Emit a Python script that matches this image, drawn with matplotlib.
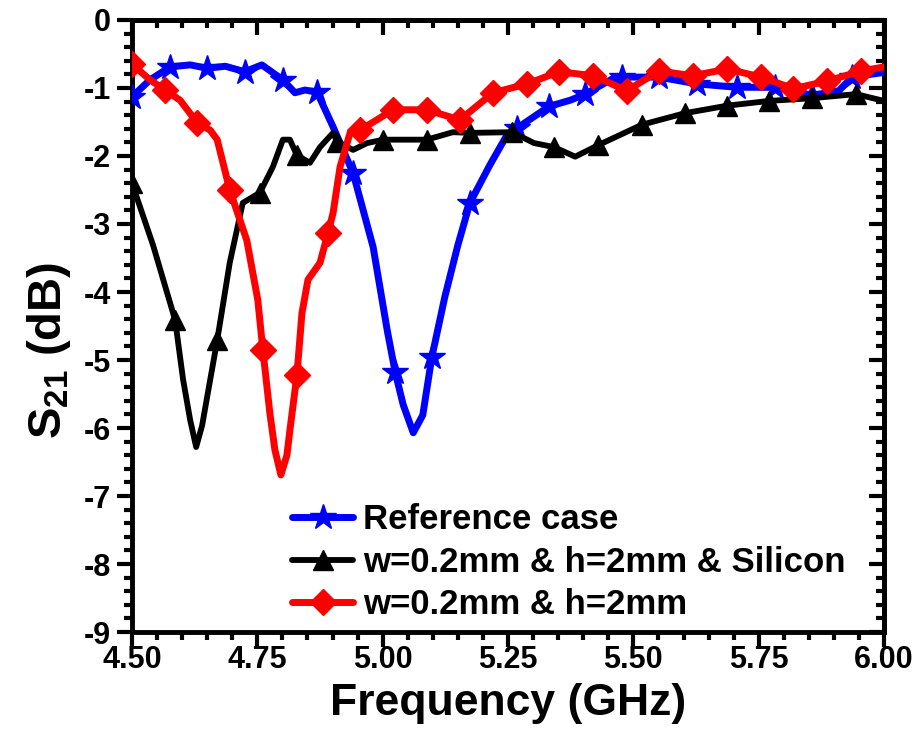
import matplotlib
matplotlib.use("Agg")
import matplotlib.pyplot as plt
from matplotlib.ticker import MultipleLocator, FormatStrFormatter

plt.rcParams['font.family'] = ['Liberation Sans', 'DejaVu Sans']
plt.rcParams['font.weight'] = 'bold'
plt.rcParams['axes.unicode_minus'] = False
plt.rcParams['mathtext.fontset'] = 'custom'
plt.rcParams['mathtext.rm'] = 'Liberation Sans:bold'
plt.rcParams['mathtext.it'] = 'Liberation Sans:bold'
plt.rcParams['mathtext.bf'] = 'Liberation Sans:bold'
plt.rcParams['mathtext.default'] = 'regular'

# ---- data ----
ref_f = [4.500, 4.536, 4.576, 4.616, 4.650, 4.686, 4.725, 4.759, 4.801, 4.825,
         4.845, 4.869, 4.901, 4.941, 4.981, 5.009, 5.025, 5.041, 5.061, 5.080,
         5.098, 5.124, 5.150, 5.174, 5.214, 5.248, 5.268, 5.332, 5.374, 5.404,
         5.457, 5.477, 5.551, 5.627, 5.707, 5.783, 5.856, 5.910, 5.936, 6.000]
ref_s = [-1.13, -0.88, -0.69, -0.66, -0.71, -0.68, -0.76, -0.66, -0.88, -1.07,
         -1.03, -1.06, -1.57, -2.25, -3.34, -4.56, -5.18, -5.66, -6.07, -5.81,
         -4.96, -4.07, -3.31, -2.69, -2.13, -1.69, -1.59, -1.27, -1.18, -1.09,
         -0.87, -0.84, -0.84, -0.94, -0.99, -0.99, -1.11, -1.04, -0.84, -0.77]
ref_mk = [0, 2, 4, 6, 8, 11, 13, 16, 20, 23, 26, 27, 29, 31, 32, 33, 34, 35, 36, 38]

si_f = [4.500, 4.542, 4.586, 4.602, 4.616, 4.628, 4.640, 4.650, 4.670, 4.695,
        4.721, 4.755, 4.781, 4.801, 4.815, 4.829, 4.855, 4.875, 4.901, 4.909,
        4.941, 4.969, 5.001, 5.088, 5.140, 5.174, 5.258, 5.302, 5.342, 5.384,
        5.430, 5.517, 5.603, 5.687, 5.771, 5.856, 5.944, 6.000]
si_s = [-2.40, -3.31, -4.41, -5.29, -5.88, -6.28, -5.96, -5.54, -4.71, -3.57,
        -2.69, -2.54, -2.16, -1.76, -1.76, -1.99, -2.10, -1.87, -1.66, -1.79,
        -1.91, -1.81, -1.76, -1.76, -1.65, -1.66, -1.65, -1.81, -1.87, -2.01,
        -1.84, -1.54, -1.37, -1.26, -1.19, -1.15, -1.09, -1.19]
si_mk = [0, 2, 8, 11, 15, 19, 22, 23, 25, 26, 28, 30, 31, 32, 33, 34, 35, 36]

wh_f = [4.500, 4.536, 4.566, 4.596, 4.630, 4.656, 4.670, 4.695, 4.729, 4.751,
        4.761, 4.775, 4.785, 4.797, 4.809, 4.815, 4.829, 4.839, 4.851, 4.875,
        4.891, 4.901, 4.915, 4.935, 4.955, 5.021, 5.088, 5.154, 5.220, 5.288,
        5.352, 5.420, 5.487, 5.551, 5.619, 5.687, 5.755, 5.819, 5.886, 5.954,
        6.000]
wh_s = [-0.65, -0.88, -1.03, -1.18, -1.51, -1.62, -1.76, -2.50, -3.24, -4.12,
        -4.85, -5.78, -6.32, -6.69, -6.40, -6.03, -5.22, -4.31, -3.82, -3.57,
        -3.13, -2.84, -2.16, -1.66, -1.62, -1.32, -1.32, -1.47, -1.07, -0.94,
        -0.76, -0.82, -1.04, -0.75, -0.82, -0.72, -0.84, -1.01, -0.90, -0.75,
        -0.69]
wh_mk = [0, 2, 4, 7, 10, 16, 20, 24, 25, 26, 27, 28, 29, 30, 31, 32, 33, 34,
         35, 36, 37, 38, 39]

labels = ["Reference case", "w=0.2mm & h=2mm & Silicon", "w=0.2mm & h=2mm"]
xticks = [4.50, 4.75, 5.00, 5.25, 5.50, 5.75, 6.00]
yticks = [0, -1, -2, -3, -4, -5, -6, -7, -8, -9]

# ---- figure ----
fig = plt.figure(figsize=(9.19, 7.46), dpi=100)
ax = fig.add_axes([0.1436, 0.1528, 0.8184, 0.8204])

ax.plot(ref_f, ref_s, color='#0000ff', lw=5, marker='*', markersize=19,
        markevery=ref_mk, mec='#0000ff', solid_joinstyle='round',
        solid_capstyle='round', label=labels[0], zorder=3)
ax.plot(si_f, si_s, color='black', lw=4.2, marker='^', markersize=14,
        markevery=si_mk, mec='black', solid_joinstyle='round',
        solid_capstyle='round', label=labels[1], zorder=4)
ax.plot(wh_f, wh_s, color='#ff0000', lw=5, marker='D', markersize=13,
        markevery=wh_mk, mec='#ff0000', solid_joinstyle='round',
        solid_capstyle='round', label=labels[2], zorder=5)

ax.set_xlim(4.5, 6.0)
ax.set_ylim(-9, 0)
ax.set_xticks(xticks)
ax.set_yticks(yticks)
ax.xaxis.set_major_formatter(FormatStrFormatter('%.2f'))
ax.yaxis.set_major_formatter(FormatStrFormatter('%d'))
ax.xaxis.set_minor_locator(MultipleLocator(0.05))
ax.yaxis.set_minor_locator(MultipleLocator(0.2))

for sp in ax.spines.values():
    sp.set_linewidth(3.5)

ax.tick_params(which='both', direction='out', top=False, right=False,
               labelsize=22, width=3)
ax.tick_params(axis='x', pad=-2)
ax.tick_params(axis='y', pad=4)
ax.tick_params(which='major', length=11)
ax.tick_params(which='minor', length=6)
for lab in ax.get_xticklabels() + ax.get_yticklabels():
    lab.set_fontweight('bold')

secx = ax.secondary_xaxis('top')
secx.set_xticks(xticks)
secx.xaxis.set_minor_locator(MultipleLocator(0.05))
secx.tick_params(which='both', direction='in', labeltop=False, width=3)
secx.tick_params(which='major', length=11)
secx.tick_params(which='minor', length=6)
secx.spines['top'].set_linewidth(3.5)

secy = ax.secondary_yaxis('right')
secy.set_yticks(yticks)
secy.yaxis.set_minor_locator(MultipleLocator(0.2))
secy.tick_params(which='both', direction='in', labelright=False, width=3)
secy.tick_params(which='major', length=11)
secy.tick_params(which='minor', length=6)
secy.spines['right'].set_linewidth(3.5)

ax.set_xlabel("Frequency (GHz)", fontsize=32, fontweight='bold', labelpad=6)
ax.set_ylabel("S$_{21}$ (dB)", fontsize=34, fontweight='bold', labelpad=8)
ax.yaxis.label.set_y(0.46)

leg = ax.legend(loc='upper left', bbox_to_anchor=(0.213, 0.21), frameon=False,
                prop={'size': 25, 'weight': 'bold'}, handlelength=1.75,
                handletextpad=0.3, labelspacing=0.27, borderaxespad=0,
                borderpad=0)

fig.savefig("out.png", dpi=100)
